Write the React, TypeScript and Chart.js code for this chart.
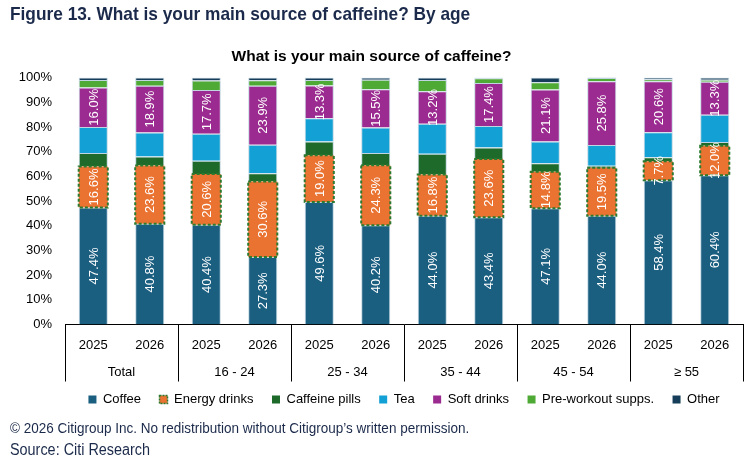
import React, { useEffect, useRef } from "react";
import { Chart, registerables } from "chart.js";

Chart.register(...registerables);

const categories = ["2025", "2026", "2025", "2026", "2025", "2026", "2025", "2026", "2025", "2026", "2025", "2026"];
const groups = ["Total", "16 - 24", "25 - 34", "35 - 44", "45 - 54", "\u2265 55"];
const yTicks = [0, 10, 20, 30, 40, 50, 60, 70, 80, 90, 100];

const coffee = [47.4, 40.8, 40.4, 27.3, 49.6, 40.2, 44.0, 43.4, 47.1, 44.0, 58.4, 60.4];
const energyDrinks = [16.6, 23.6, 20.6, 30.6, 19.0, 24.3, 16.8, 23.6, 14.8, 19.5, 7.7, 12.0];
const caffeinePills = [5.5, 3.6, 5.3, 3.4, 5.5, 5.0, 8.4, 4.7, 3.4, 0.8, 1.6, 1.5];
const tea = [10.5, 9.8, 11.0, 11.5, 9.4, 10.3, 12.1, 8.7, 8.8, 8.4, 10.2, 11.1];
const softDrinks = [16.0, 18.9, 17.7, 23.9, 13.3, 15.5, 13.2, 17.4, 21.1, 25.8, 20.6, 13.3];
const preWorkout = [3.0, 2.3, 3.8, 2.2, 2.2, 3.8, 4.5, 1.9, 2.9, 1.3, 0.8, 0.8];
const other = [1.0, 1.0, 1.2, 1.1, 1.0, 0.9, 1.0, 0.3, 1.9, 0.2, 0.7, 0.9];

const FONT = '"Liberation Sans", Arial, sans-serif';
const ENERGY_BORDER = "#2b7a2f";
const SEG_BORDER = "rgba(185,208,222,0.9)";

const groupPlugin = {
  id: "groupLabels",
  afterDraw(chart: any) {
    const xs = chart.scales.x;
    const area = chart.chartArea;
    const ctx = chart.ctx;
    const half = (xs.getPixelForValue(1) - xs.getPixelForValue(0)) / 2;
    ctx.save();
    ctx.strokeStyle = "#000";
    ctx.lineWidth = 1;
    const bottom = area.bottom + 57;
    for (let g = 0; g <= groups.length; g++) {
      const left = g < groups.length ? xs.getPixelForValue(2 * g) - half : xs.getPixelForValue(2 * g - 1) + half;
      const px = Math.round(left) + 0.5;
      ctx.beginPath();
      ctx.moveTo(px, area.bottom);
      ctx.lineTo(px, bottom);
      ctx.stroke();
    }
    ctx.fillStyle = "#000";
    ctx.font = "13px " + FONT;
    ctx.textAlign = "center";
    ctx.textBaseline = "middle";
    groups.forEach((g, i) => {
      const cx = (xs.getPixelForValue(2 * i) + xs.getPixelForValue(2 * i + 1)) / 2;
      ctx.fillText(g, cx, area.bottom + 48);
    });
    ctx.restore();
  },
};

const labelPlugin = {
  id: "segLabels",
  afterDatasetsDraw(chart: any) {
    const ctx = chart.ctx;
    ctx.save();
    const em = chart.getDatasetMeta(1);
    ctx.setLineDash([3, 2]);
    ctx.strokeStyle = ENERGY_BORDER;
    ctx.lineWidth = 2;
    em.data.forEach((bar: any) => {
      const p = bar.getProps(["x", "y", "base", "width"], true);
      ctx.strokeRect(p.x - p.width / 2, p.y, p.width, p.base - p.y);
    });
    ctx.setLineDash([]);
    ctx.fillStyle = "#fff";
    ctx.font = "13px " + FONT;
    ctx.textAlign = "center";
    ctx.textBaseline = "middle";
    [0, 1, 4].forEach((di) => {
      const meta = chart.getDatasetMeta(di);
      const vals = chart.data.datasets[di].data;
      meta.data.forEach((bar: any, j: number) => {
        const p = bar.getProps(["x", "y", "base"], true);
        const cy = (p.y + p.base) / 2;
        ctx.save();
        ctx.translate(p.x, cy);
        ctx.rotate(-Math.PI / 2);
        ctx.fillText(Number(vals[j]).toFixed(1) + "%", 0, 1);
        ctx.restore();
      });
    });
    ctx.restore();
  },
};

export default function App() {
  const ref = useRef<HTMLCanvasElement | null>(null);
  useEffect(() => {
    document.body.style.margin = "0";
    if (!ref.current) return;
    const mk = (label: string, data: number[], color: string, bw = 1) => ({
      label,
      data,
      backgroundColor: color,
      borderColor: SEG_BORDER,
      borderWidth: bw,
      barPercentage: 0.515,
      categoryPercentage: 1,
    });
    const chart = new Chart(ref.current, {
      type: "bar",
      data: {
        labels: categories,
        datasets: [
          mk("Coffee", coffee, "#1a5e80"),
          mk("Energy drinks", energyDrinks, "#ea7331", 0),
          mk("Caffeine pills", caffeinePills, "#1d6a2a"),
          mk("Tea", tea, "#13a0d4"),
          mk("Soft drinks", softDrinks, "#9b2b90"),
          mk("Pre-workout supps.", preWorkout, "#4faa35"),
          mk("Other", other, "#163e5a"),
        ],
      },
      options: {
        animation: false,
        responsive: false,
        layout: { padding: { left: 0, right: 12, top: 0, bottom: 45 } },
        plugins: {
          title: {
            display: true,
            text: "What is your main source of caffeine?",
            color: "#000",
            font: { family: FONT, size: 15.5, weight: "bold" },
            padding: { top: 47, bottom: 12 },
          },
          legend: {
            position: "bottom",
            fullSize: false,
            labels: {
              color: "#000",
              font: { family: FONT, size: 13 },
              boxWidth: 8,
              boxHeight: 8,
              padding: 18.5,
              generateLabels: (c: any) =>
                c.data.datasets.map((d: any, i: number) => ({
                  text: d.label,
                  fillStyle: d.backgroundColor,
                  strokeStyle: i === 1 ? ENERGY_BORDER : d.backgroundColor,
                  lineWidth: i === 1 ? 1.5 : 0,
                  lineDash: i === 1 ? [2, 1] : [],
                  hidden: false,
                  datasetIndex: i,
                  fontColor: "#000",
                })),
            },
          },
          tooltip: { enabled: false },
        },
        scales: {
          x: {
            stacked: true,
            grid: { display: false },
            border: { display: true, color: "#000", width: 1 },
            ticks: {
              color: "#000",
              font: { family: FONT, size: 13 },
              maxRotation: 0,
              autoSkip: false,
              padding: 5,
            },
            afterFit: (s: any) => {
              s.height = 50;
            },
          },
          y: {
            stacked: true,
            min: 0,
            max: 100,
            grid: { display: false },
            border: { display: false },
            afterBuildTicks: (s: any) => {
              s.ticks = yTicks.map((v) => ({ value: v }));
            },
            ticks: {
              color: "#000",
              font: { family: FONT, size: 13 },
              padding: 5,
              autoSkip: false,
              stepSize: 10,
              callback: (v: any) => v + "%",
            },
            afterFit: (s: any) => {
              s.width = 65;
            },
          },
        },
      },
      plugins: [groupPlugin, labelPlugin],
    } as any);
    return () => chart.destroy();
  }, []);

  return (
    <div style={{ position: "relative", width: 755, height: 461, overflow: "hidden", background: "#fff" }}>
      <canvas ref={ref} width={755} height={461} style={{ position: "absolute", left: 0, top: 0 }} />
      <div
        style={{
          position: "absolute",
          left: 10,
          top: 3,
          fontFamily: FONT,
          fontWeight: "bold",
          fontSize: 19,
          color: "#1b2a4a",
          whiteSpace: "nowrap",
          transform: "scaleX(0.91)",
          transformOrigin: "left top",
        }}
      >
        Figure 13. What is your main source of caffeine? By age
      </div>
      <div
        style={{
          position: "absolute",
          left: 10,
          top: 417,
          fontFamily: FONT,
          fontSize: 15,
          lineHeight: "22px",
          color: "#1b2a4a",
          whiteSpace: "nowrap",
          transform: "scaleX(0.9)",
          transformOrigin: "left top",
        }}
      >
        <div>© 2026 Citigroup Inc. No redistribution without Citigroup’s written permission.</div>
        <div style={{ fontSize: 16 }}>Source: Citi Research</div>
      </div>
    </div>
  );
}
